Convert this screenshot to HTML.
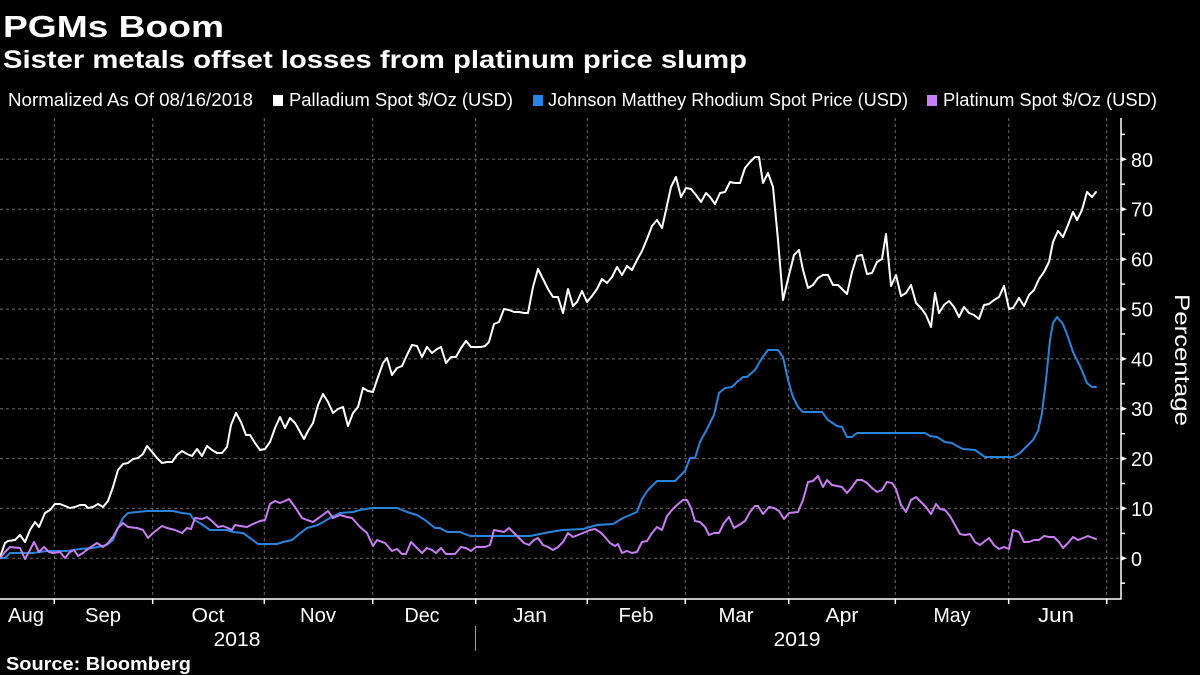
<!DOCTYPE html>
<html>
<head>
<meta charset="utf-8">
<style>
  html, body { margin:0; padding:0; background:#000; }
  body { width:1200px; height:675px; overflow:hidden; }
  svg { display:block; }
  text { font-family: "Liberation Sans", "DejaVu Sans", sans-serif; fill:#fff; }
</style>
</head>
<body>
<svg width="1200" height="675" viewBox="0 0 1200 675" xmlns="http://www.w3.org/2000/svg">
  <rect x="0" y="0" width="1200" height="675" fill="#000"/>

  <!-- Titles -->
  <text x="3" y="37" font-size="31" font-weight="bold" textLength="221" lengthAdjust="spacingAndGlyphs">PGMs Boom</text>
  <text x="3" y="68" font-size="25" font-weight="bold" textLength="744" lengthAdjust="spacingAndGlyphs">Sister metals offset losses from platinum price slump</text>

  <!-- Legend -->
  <g font-size="18">
    <text x="8" y="106" textLength="245" lengthAdjust="spacingAndGlyphs">Normalized As Of 08/16/2018</text>
    <rect x="273" y="95" width="10" height="11" fill="#ffffff"/>
    <text x="289" y="106" textLength="224" lengthAdjust="spacingAndGlyphs">Palladium Spot $/Oz (USD)</text>
    <rect x="533" y="95" width="10" height="11" fill="#2186eb"/>
    <text x="548" y="106" textLength="360" lengthAdjust="spacingAndGlyphs">Johnson Matthey Rhodium Spot Price (USD)</text>
    <rect x="927" y="95" width="10" height="11" fill="#c77ff7"/>
    <text x="943" y="106" textLength="214" lengthAdjust="spacingAndGlyphs">Platinum Spot $/Oz (USD)</text>
  </g>

  <!-- Gridlines -->
  <g stroke="#6a6a6a" stroke-width="1" stroke-dasharray="3,3" fill="none">
    <line x1="0" y1="159.3" x2="1121" y2="159.3"/>
    <line x1="0" y1="209.2" x2="1121" y2="209.2"/>
    <line x1="0" y1="259.2" x2="1121" y2="259.2"/>
    <line x1="0" y1="309.1" x2="1121" y2="309.1"/>
    <line x1="0" y1="358.9" x2="1121" y2="358.9"/>
    <line x1="0" y1="408.7" x2="1121" y2="408.7"/>
    <line x1="0" y1="458.6" x2="1121" y2="458.6"/>
    <line x1="0" y1="508.4" x2="1121" y2="508.4"/>
    <line x1="0" y1="558.3" x2="1121" y2="558.3"/>

    <line x1="54.3" y1="118" x2="54.3" y2="599"/>
    <line x1="152.7" y1="118" x2="152.7" y2="599"/>
    <line x1="264.3" y1="118" x2="264.3" y2="599"/>
    <line x1="372.7" y1="118" x2="372.7" y2="599"/>
    <line x1="475.7" y1="118" x2="475.7" y2="599"/>
    <line x1="587.3" y1="118" x2="587.3" y2="599"/>
    <line x1="685.3" y1="118" x2="685.3" y2="599"/>
    <line x1="788.7" y1="118" x2="788.7" y2="599"/>
    <line x1="895.3" y1="118" x2="895.3" y2="599"/>
    <line x1="1008.7" y1="118" x2="1008.7" y2="599"/>
    <line x1="1106.7" y1="118" x2="1106.7" y2="599"/>
  </g>

  <!-- Series -->
  <g fill="none" stroke-width="2" stroke-linejoin="round" stroke-linecap="round">
    <polyline stroke="#ffffff" points="0,557 5,543 8,541 15,540 20,535 25,542 30,530 35,522 39,527 45,513 50,510 55,504 60,504 65,506 70,508 75,507 80,505 85,505 88,508 93,507 98,504 103,507 108,501 113,487 118,470 123,464 128,463 133,459 138,458 143,454 147,446 153,453 157,458 162,463 167,462 172,462 177,455 182,451 187,454 192,456 197,449 202,456 207,446 212,450 217,453 222,453 227,447 231,425 236,413 241,422 246,435 250,435 255,443 260,450 265,449 270,442 275,428 280,417 285,428 290,418 295,423 299,430 304,439 308,431 313,423 318,405 323,394 328,402 333,413 338,409 343,407 348,426 353,413 358,407 363,388 368,391 373,392 377,380 383,363 387,358 392,375 397,368 402,366 407,355 412,345 417,346 422,357 427,347 432,353 437,349 441,347 446,363 451,357 456,357 461,348 466,341 471,347 476,347 481,347 485,346 489,342 494,324 499,322 504,309 509,310 514,312 519,312 524,313 528,313 533,287 538,269 543,279 548,289 553,297 558,297 563,313 568,289 573,306 577,302 582,291 587,302 592,296 597,289 602,279 607,283 612,277 617,267 622,275 627,266 632,270 637,260 642,251 647,239 652,226 657,220 662,228 666,210 671,187 676,177 681,197 686,188 691,189 696,195 701,202 706,193 710,197 715,204 720,193 725,192 730,182 735,183 740,183 745,168 750,162 755,157 759,157 763,183 768,173 773,187 778,240 783,300 789,275 794,255 799,250 803,270 808,288 813,285 818,278 823,275 828,275 833,285 838,285 842,289 847,294 852,272 857,256 862,255 867,274 872,273 877,262 882,259 886,234 891,286 896,275 901,296 906,293 911,285 916,303 921,308 926,315 931,327 935,293 939,313 944,305 949,301 954,307 959,317 964,307 969,313 974,315 979,319 984,305 989,304 994,300 999,297 1004,286 1009,309 1013,308 1019,298 1024,306 1029,295 1034,290 1039,279 1044,272 1049,262 1053,242 1058,231 1063,237 1068,225 1073,212 1077,220 1082,210 1087,192 1092,197 1096,192"/>
    <polyline stroke="#2b84dc" points="0,558 5,558 10,553 20,553 33,553 47,551 67,551 80,549 93,548 107,545 113,540 118,528 123,518 128,513 137,512 147,511 173,511 182,513 190,514 194,520 200,523 210,530 227,530 233,532 243,533 250,538 258,544 277,544 283,542 292,540 298,535 307,528 318,525 330,518 340,513 353,512 360,510 372,508 397,508 407,512 417,515 425,520 435,528 440,528 447,532 460,532 470,536 530,536 540,534 550,532 563,530 583,529 597,525 613,524 623,518 637,512 642,499 648,490 657,481 675,481 685,471 690,458 695,458 700,442 707,429 714,415 719,393 725,388 732,387 737,382 743,377 747,377 755,370 762,358 768,350 778,350 783,357 788,380 793,397 798,407 803,412 822,412 828,420 837,426 842,427 847,437 852,437 857,433 925,433 930,436 937,437 945,442 952,443 957,446 963,449 975,450 985,457 1013,457 1020,453 1027,446 1033,440 1038,431 1042,413 1046,380 1050,340 1053,323 1057,317 1063,324 1068,337 1073,352 1080,366 1087,383 1092,387 1096,387"/>
    <polyline stroke="#c77ff2" points="0,558 5,552 10,547 20,548 25,559 29,552 34,542 39,552 44,547 49,552 53,553 60,552 65,558 70,552 74,550 78,556 83,553 88,549 97,543 103,547 108,543 113,537 118,528 123,523 128,527 137,528 143,530 148,538 153,533 162,526 167,528 175,530 182,533 187,528 191,529 195,518 202,519 207,517 213,522 218,527 223,526 228,528 232,530 235,525 240,526 247,527 253,524 260,521 265,520 270,504 275,501 280,503 285,501 289,499 295,507 302,518 307,520 313,522 320,517 328,511 333,518 340,515 347,517 352,518 360,527 367,533 373,546 377,540 385,543 392,551 397,549 402,554 406,554 411,542 417,548 422,553 427,548 432,550 436,553 441,548 446,554 455,554 461,547 466,548 471,551 476,547 485,547 490,545 494,530 499,531 504,532 509,528 514,533 519,538 524,543 529,545 534,540 538,538 543,545 548,547 553,550 558,547 563,542 568,533 573,537 578,535 583,533 590,530 595,529 600,532 605,537 610,543 615,546 618,544 622,553 627,551 632,553 637,552 642,542 647,541 652,533 657,527 662,530 667,516 672,510 677,505 683,500 687,500 691,508 695,521 700,522 705,527 709,535 714,533 719,533 724,523 729,517 734,528 739,525 745,521 750,512 755,506 758,506 763,514 769,507 774,508 779,511 784,519 789,513 798,512 803,500 808,482 813,481 818,476 823,487 827,480 832,485 837,486 842,487 847,493 852,487 857,480 862,480 867,483 872,488 877,492 882,490 887,482 892,483 896,489 901,505 906,512 911,500 916,497 921,502 926,507 931,514 936,504 940,509 945,510 950,516 955,525 960,534 965,535 970,534 975,542 980,545 985,541 989,538 994,545 999,549 1004,547 1009,549 1013,530 1019,532 1024,542 1029,542 1034,540 1039,540 1044,536 1049,537 1054,537 1059,542 1063,548 1068,543 1073,537 1078,540 1083,538 1088,536 1093,538 1096,539"/>
  </g>

  <!-- Axes -->
  <g stroke="#ffffff" stroke-width="1.5" fill="none">
    <line x1="1121" y1="118" x2="1121" y2="599.5"/>
    <line x1="0" y1="599" x2="1121.5" y2="599"/>
    <!-- minor ticks -->
    <line x1="1121" y1="134.4" x2="1125" y2="134.4"/>
    <line x1="1121" y1="184.2" x2="1125" y2="184.2"/>
    <line x1="1121" y1="234.2" x2="1125" y2="234.2"/>
    <line x1="1121" y1="284.1" x2="1125" y2="284.1"/>
    <line x1="1121" y1="334.0" x2="1125" y2="334.0"/>
    <line x1="1121" y1="383.8" x2="1125" y2="383.8"/>
    <line x1="1121" y1="433.7" x2="1125" y2="433.7"/>
    <line x1="1121" y1="483.5" x2="1125" y2="483.5"/>
    <line x1="1121" y1="533.4" x2="1125" y2="533.4"/>
    <line x1="1121" y1="583.2" x2="1125" y2="583.2"/>
    <!-- month ticks -->
    <line x1="54.3" y1="599" x2="54.3" y2="604"/>
    <line x1="152.7" y1="599" x2="152.7" y2="604"/>
    <line x1="264.3" y1="599" x2="264.3" y2="604"/>
    <line x1="372.7" y1="599" x2="372.7" y2="604"/>
    <line x1="475.7" y1="599" x2="475.7" y2="604"/>
    <line x1="587.3" y1="599" x2="587.3" y2="604"/>
    <line x1="685.3" y1="599" x2="685.3" y2="604"/>
    <line x1="788.7" y1="599" x2="788.7" y2="604"/>
    <line x1="895.3" y1="599" x2="895.3" y2="604"/>
    <line x1="1008.7" y1="599" x2="1008.7" y2="604"/>
    <line x1="1106.7" y1="599" x2="1106.7" y2="604"/>
  </g>
  <!-- major tick arrows -->
  <g fill="#ffffff">
    <polygon points="1121,156.8 1127,159.3 1121,161.8"/>
    <polygon points="1121,206.7 1127,209.2 1121,211.7"/>
    <polygon points="1121,256.7 1127,259.2 1121,261.7"/>
    <polygon points="1121,306.6 1127,309.1 1121,311.6"/>
    <polygon points="1121,356.4 1127,358.9 1121,361.4"/>
    <polygon points="1121,406.2 1127,408.7 1121,411.2"/>
    <polygon points="1121,456.1 1127,458.6 1121,461.1"/>
    <polygon points="1121,505.9 1127,508.4 1121,510.9"/>
    <polygon points="1121,555.8 1127,558.3 1121,560.8"/>
  </g>

  <!-- Y labels -->
  <g font-size="20">
    <text x="1131" y="166.8" textLength="22" lengthAdjust="spacingAndGlyphs">80</text>
    <text x="1131" y="216.7" textLength="22" lengthAdjust="spacingAndGlyphs">70</text>
    <text x="1131" y="266.7" textLength="22" lengthAdjust="spacingAndGlyphs">60</text>
    <text x="1131" y="316.6" textLength="22" lengthAdjust="spacingAndGlyphs">50</text>
    <text x="1131" y="366.4" textLength="22" lengthAdjust="spacingAndGlyphs">40</text>
    <text x="1131" y="416.2" textLength="22" lengthAdjust="spacingAndGlyphs">30</text>
    <text x="1131" y="466.1" textLength="22" lengthAdjust="spacingAndGlyphs">20</text>
    <text x="1131" y="515.9" textLength="22" lengthAdjust="spacingAndGlyphs">10</text>
    <text x="1131" y="565.8" textLength="11" lengthAdjust="spacingAndGlyphs">0</text>
  </g>

  <!-- Axis title -->
  <text transform="translate(1175,294) rotate(90)" x="0" y="0" font-size="21" textLength="132" lengthAdjust="spacingAndGlyphs">Percentage</text>

  <!-- Month labels -->
  <g font-size="20" text-anchor="middle">
    <text x="26" y="622" textLength="36" lengthAdjust="spacingAndGlyphs">Aug</text>
    <text x="103" y="622" textLength="36" lengthAdjust="spacingAndGlyphs">Sep</text>
    <text x="208" y="622" textLength="33" lengthAdjust="spacingAndGlyphs">Oct</text>
    <text x="318" y="622" textLength="36" lengthAdjust="spacingAndGlyphs">Nov</text>
    <text x="422" y="622" textLength="35" lengthAdjust="spacingAndGlyphs">Dec</text>
    <text x="530" y="622" textLength="34" lengthAdjust="spacingAndGlyphs">Jan</text>
    <text x="636" y="622" textLength="35" lengthAdjust="spacingAndGlyphs">Feb</text>
    <text x="736" y="622" textLength="35" lengthAdjust="spacingAndGlyphs">Mar</text>
    <text x="842" y="622" textLength="33" lengthAdjust="spacingAndGlyphs">Apr</text>
    <text x="952" y="622" textLength="37" lengthAdjust="spacingAndGlyphs">May</text>
    <text x="1056" y="622" textLength="36" lengthAdjust="spacingAndGlyphs">Jun</text>
    <text x="237" y="646" textLength="47" lengthAdjust="spacingAndGlyphs">2018</text>
    <text x="797" y="646" textLength="47" lengthAdjust="spacingAndGlyphs">2019</text>
  </g>
  <line x1="475.5" y1="626" x2="475.5" y2="651" stroke="#9a9a9a" stroke-width="1"/>

  <!-- Source -->
  <text x="6" y="670" font-size="18" font-weight="bold" textLength="185" lengthAdjust="spacingAndGlyphs">Source: Bloomberg</text>
</svg>
</body>
</html>
